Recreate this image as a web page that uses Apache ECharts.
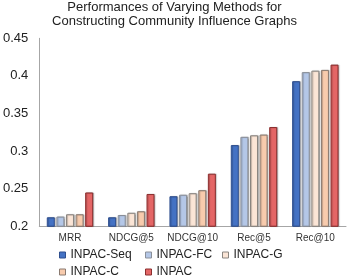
<!DOCTYPE html>
<html><head><meta charset="utf-8">
<script src="https://cdn.jsdelivr.net/npm/echarts@6/dist/echarts.min.js"></script>
<style>html,body{margin:0;padding:0;background:#fff}#c{width:349px;height:279px}</style>
</head><body><div id="c"></div>
<script>
var titleLines = ['Performances of Varying Methods for', 'Constructing Community Influence Graphs'];
var categories = ['MRR', 'NDCG@5', 'NDCG@10', 'Rec@5', 'Rec@10'];
var seriesNames = ['INPAC-Seq', 'INPAC-FC', 'INPAC-G', 'INPAC-C', 'INPAC'];
var inpacSeq = [0.212, 0.212, 0.240, 0.308, 0.393];
var inpacFC  = [0.213, 0.215, 0.242, 0.319, 0.405];
var inpacG   = [0.216, 0.218, 0.244, 0.321, 0.407];
var inpacC   = [0.216, 0.220, 0.248, 0.322, 0.408];
var inpac    = [0.245, 0.243, 0.270, 0.332, 0.415];
var yTickLabels = ['0.2', '0.25', '0.3', '0.35', '0.4', '0.45'];

var values = [inpacSeq, inpacFC, inpacG, inpacC, inpac];
var colors = ['#4472C4', '#B4C7E7', '#FBE5D6', '#F8CBAD', '#E46666'];
var borders = ['#2F4F8F', '#8A8F99', '#8A8580', '#8A7A70', '#8B2E2E'];
var font = 'Liberation Sans, Arial, sans-serif';

var chart = echarts.init(document.getElementById('c'), null, {renderer: 'canvas'});
var series = seriesNames.map(function (n, i) {
  return {
    name: n, type: 'bar', data: values[i], barWidth: 8, barGap: '20%',
    itemStyle: {color: colors[i], borderColor: borders[i], borderWidth: 1,
      shadowColor: 'rgba(0,0,0,0.25)', shadowBlur: 1, shadowOffsetX: 1, shadowOffsetY: 0},
    emphasis: {disabled: true}
  };
});
var legendPos = [[59, 249], [145, 249], [222, 249], [59, 266], [145, 266]];
var legends = seriesNames.map(function (n, i) {
  return {
    data: [{name: n, icon: 'rect', itemStyle: {borderColor: borders[i], borderWidth: 1}}],
    left: legendPos[i][0], top: legendPos[i][1],
    itemWidth: 6, itemHeight: 6, itemGap: 0, padding: 0,
    textStyle: {fontFamily: font, fontSize: 12, color: '#222'}
  };
});
chart.setOption({
  animation: false,
  title: {
    text: titleLines.join('\n'), left: 'center', top: 0, padding: [0, 0, 0, 0],
    textStyle: {fontFamily: font, fontSize: 13, fontWeight: 'normal', color: '#222', lineHeight: 14}
  },
  legend: legends,
  grid: {left: 36, right: 3, top: 38.3, bottom: 52.7, containLabel: false},
  xAxis: {
    type: 'category', data: categories,
    axisLine: {lineStyle: {color: '#A6A6A6', width: 1}},
    axisTick: {show: false},
    axisLabel: {interval: 0, fontFamily: font, fontSize: 10, color: '#333', margin: 7}
  },
  yAxis: {
    type: 'value', min: 0.2, max: 0.45, interval: 0.05,
    axisLine: {show: true, lineStyle: {color: '#A6A6A6', width: 1}},
    axisTick: {show: false}, splitLine: {show: false},
    axisLabel: {fontFamily: font, fontSize: 13, color: '#222', margin: 11,
      formatter: function (v) { return yTickLabels[Math.round((v - 0.2) / 0.05)]; }}
  },
  series: series
});
</script></body></html>
